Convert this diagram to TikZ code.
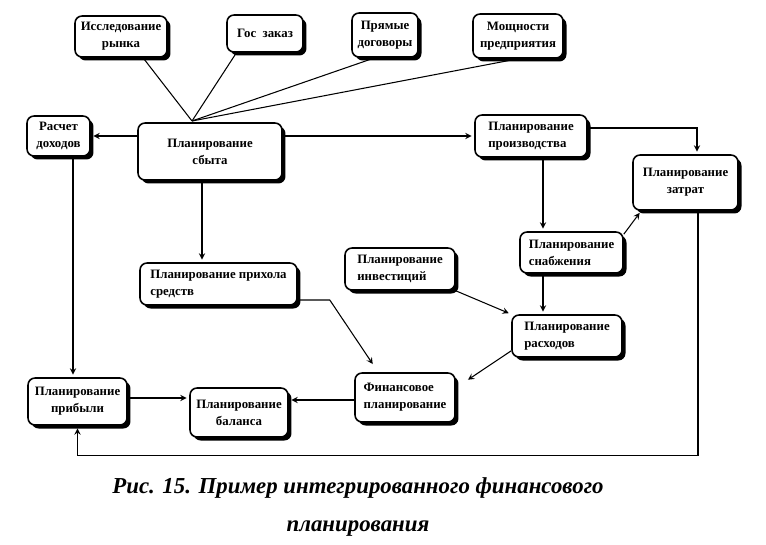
\documentclass[tikz,border=0pt]{standalone}
\usepackage{fontspec}
\setmainfont{Liberation Serif}
\usetikzlibrary{shapes.geometric, arrows, positioning, shadows}

\begin{document}
\begin{tikzpicture}[
    x=0.02cm, y=-0.02cm,
    box/.style={rectangle, rounded corners=4pt, draw=black, line width=0.9pt, fill=white,
        drop shadow={shadow xshift=0.07cm, shadow yshift=-0.07cm, fill=black, opacity=1},
        font=\fontsize{7.3}{9.6}\selectfont\bfseries, inner sep=2pt, text centered},
    lbox/.style={box, align=left},
    cbox/.style={box, align=center},
    line/.style={line width=0.6pt},
    arrow/.style={line, ->, >=stealth, shorten >=1.5pt}
]
\useasboundingbox (0,0) rectangle (766,544);

% Sources
\node[cbox, minimum width=1.84cm, minimum height=0.82cm] (rynok) at (121,36.5) {Исследование\\рынка};
\node[cbox, minimum width=1.52cm, minimum height=0.74cm] (goszakaz) at (265,33.5) {Гос\ \ заказ};
\node[cbox, minimum width=1.32cm, minimum height=0.88cm] (dogovory) at (385,35) {Прямые\\договоры};
\node[cbox, minimum width=1.80cm, minimum height=0.88cm] (moshch) at (518,36) {Мощности\\предприятия};

% Sales and production
\node[cbox, minimum width=2.88cm, minimum height=1.14cm] (sbyt) at (210,151.5) {Планирование\\сбыта};
\node[cbox, minimum width=1.26cm, minimum height=0.80cm] (raschet) at (58.5,136) {Расчет\\доходов};
\node[lbox, minimum width=2.24cm, minimum height=0.84cm] (proizv) at (531,136) {Планирование\\производства};
\node[cbox, minimum width=2.10cm, minimum height=1.10cm] (zatrat) at (685.5,182.5) {Планирование\\затрат};
\node[lbox, minimum width=2.06cm, minimum height=0.82cm] (snabzh) at (571.5,252.5) {Планирование\\снабжения};

% Middle row
\node[lbox, minimum width=3.14cm, minimum height=0.84cm] (prihod) at (218.5,284) {Планирование прихола\\средств};
\node[lbox, minimum width=2.20cm, minimum height=0.84cm] (invest) at (400,269) {Планирование\\инвестиций};
\node[lbox, minimum width=2.20cm, minimum height=0.84cm] (rashod) at (567,336) {Планирование\\расходов};

% Bottom row
\node[cbox, minimum width=1.98cm, minimum height=0.94cm] (pribyl) at (77.5,401.5) {Планирование\\прибыли};
\node[cbox, minimum width=1.96cm, minimum height=0.98cm] (balans) at (239,412.5) {Планирование\\баланса};
\node[lbox, minimum width=2.00cm, minimum height=0.98cm] (finans) at (405,397.5) {Финансовое\\планирование};

% Caption
\node[align=center, font=\fontsize{13}{21.5}\selectfont\bfseries\itshape] (caption) at (358,507)
    {Рис. 15. Пример интегрированного финансового\\планирования};

% Fan into sales planning
\coordinate (hub) at (192,121);
\draw[line] (hub) -- (rynok.-44);
\draw[line] (hub) -- (goszakaz.-146);
\draw[line] (hub) -- (dogovory.-114);
\draw[line] (hub) -- (moshch.south);

% Arrows
\draw[arrow] (sbyt.west |- raschet) -- (raschet);
\draw[arrow] (sbyt.east |- proizv) -- (proizv);
\draw[arrow] ([yshift=0.16cm]proizv.east) -| (zatrat.north -| 697,0);
\draw[arrow] (proizv.south -| 543,0) -- (snabzh.north -| 543,0);
\draw[arrow] ([yshift=-0.06cm]snabzh.north east) -- ([xshift=0.18cm]zatrat.south west);
\draw[arrow] (snabzh.south -| 543,0) -- (rashod.north -| 543,0);
\draw[arrow] (sbyt.south -| 202,0) -- (prihod.north -| 202,0);
\draw[arrow] (raschet.south -| 73,0) -- (pribyl.north -| 73,0);
\draw[arrow] (zatrat.south -| 698,0) |- ([yshift=-0.6cm]pribyl.south) -- (pribyl.south);
\draw[arrow] (pribyl.east |- 0,398) -- (balans.west |- 0,398);
\draw[arrow] (finans.west |- 0,400) -- (balans.east |- 0,400);
\draw[arrow] (prihod.east |- 0,300) -- ++(32,0) -- ([xshift=0.4cm, yshift=0.12cm]finans.north west);
\draw[arrow] (invest.south east) -- (rashod.north west);
\draw[arrow] ([yshift=0.14cm]rashod.south west) -- ([xshift=0.2cm, yshift=-0.18cm]finans.north east);

\end{tikzpicture}
\end{document}
